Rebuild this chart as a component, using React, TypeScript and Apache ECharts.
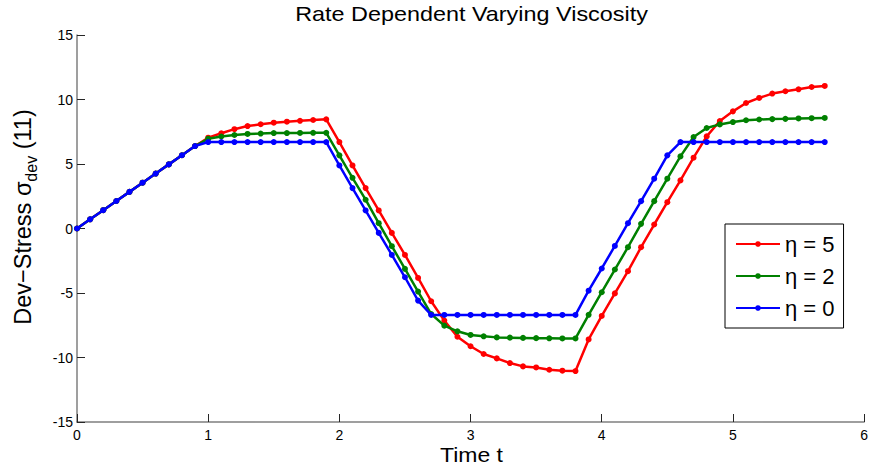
import React, { useEffect, useRef } from "react";
import * as echarts from "echarts";

const FONT = '"Liberation Sans", Arial, Helvetica, sans-serif';

const TITLE = "Rate Dependent Varying Viscosity";
const X_LABEL = "Time t";
const LEGEND_NAMES = ["η = 5", "η = 2", "η = 0"];
const COLORS = ["#ff0000", "#008000", "#0000ff"];

const times = [
  0, 0.1, 0.2, 0.3, 0.4, 0.5, 0.6, 0.7, 0.8, 0.9,
  1.0, 1.1, 1.2, 1.3, 1.4, 1.5, 1.6, 1.7, 1.8, 1.9,
  2.0, 2.1, 2.2, 2.3, 2.4, 2.5, 2.6, 2.7, 2.8, 2.9,
  3.0, 3.1, 3.2, 3.3, 3.4, 3.5, 3.6, 3.7, 3.8, 3.9,
  4.0, 4.1, 4.2, 4.3, 4.4, 4.5, 4.6, 4.7, 4.8, 4.9,
  5.0, 5.1, 5.2, 5.3, 5.4, 5.5, 5.6, 5.7,
];

const eta5 = [
  0, 0.71, 1.42, 2.13, 2.84, 3.55, 4.26, 4.97, 5.68, 6.39,
  7.04, 7.38, 7.7, 7.94, 8.08, 8.2, 8.28, 8.35, 8.41, 8.46,
  6.7, 4.89, 3.13, 1.4, -0.34, -2.05, -3.83, -5.64, -7.14, -8.39,
  -9.13, -9.73, -10.07, -10.43, -10.69, -10.77, -10.95, -11.02, -11.05, -8.6,
  -6.78, -5.03, -3.31, -1.45, 0.31, 2.04, 3.73, 5.49, 7.14, 8.33,
  9.08, 9.73, 10.12, 10.46, 10.64, 10.79, 10.97, 11.05,
];

const eta2 = [
  0, 0.71, 1.42, 2.13, 2.84, 3.55, 4.26, 4.97, 5.68, 6.39,
  6.96, 7.13, 7.25, 7.33, 7.36, 7.4, 7.4, 7.41, 7.42, 7.42,
  5.67, 3.93, 2.23, 0.41, -1.37, -3.13, -4.89, -6.63, -7.53, -7.97,
  -8.25, -8.36, -8.44, -8.46, -8.48, -8.5, -8.51, -8.52, -8.52, -6.69,
  -4.94, -3.18, -1.45, 0.36, 2.12, 3.86, 5.59, 7.09, 7.79, 8.07,
  8.25, 8.39, 8.45, 8.48, 8.5, 8.53, 8.55, 8.57,
];

const eta0 = [
  0, 0.71, 1.42, 2.13, 2.84, 3.55, 4.26, 4.97, 5.68, 6.39,
  6.7, 6.7, 6.7, 6.7, 6.7, 6.7, 6.7, 6.7, 6.7, 6.7,
  4.89, 3.13, 1.4, -0.34, -2.05, -3.78, -5.59, -6.7, -6.7, -6.7,
  -6.7, -6.7, -6.7, -6.7, -6.7, -6.7, -6.7, -6.7, -6.7, -4.82,
  -3.1, -1.35, 0.41, 2.12, 3.86, 5.67, 6.7, 6.7, 6.7, 6.7,
  6.7, 6.7, 6.7, 6.7, 6.7, 6.7, 6.7, 6.7,
];

const seriesValues = [eta5, eta2, eta0];

export default function App() {
  const ref = useRef<HTMLDivElement>(null);

  useEffect(() => {
    if (!ref.current) return;
    const chart = echarts.init(ref.current, null, { renderer: "svg" });

    const axisCommon = {
      type: "value" as const,
      splitLine: { show: false },
      axisLine: { show: true, onZero: false, lineStyle: { color: "#7f7f7f", width: 1.5 } },
      axisTick: { show: true, inside: true, length: 8, lineStyle: { color: "#262626", width: 1 } },
    };

    chart.setOption({
      animation: false,
      backgroundColor: "#ffffff",
      grid: { left: 77, right: 5, top: 35, bottom: 51, containLabel: false },
      xAxis: {
        ...axisCommon,
        min: 0,
        max: 6,
        interval: 1,
        axisLabel: { margin: 6, fontSize: 14, color: "#000", fontFamily: FONT },
      },
      yAxis: {
        ...axisCommon,
        min: -15,
        max: 15,
        interval: 5,
        axisLabel: { margin: 4, fontSize: 14, color: "#000", fontFamily: FONT },
      },
      legend: {
        orient: "vertical",
        left: 725,
        top: 224,
        padding: [9, 9, 9, 10],
        itemGap: 10,
        itemWidth: 44,
        itemHeight: 7,
        backgroundColor: "#ffffff",
        borderColor: "#000000",
        borderWidth: 1,
        borderRadius: 0,
        textStyle: { fontSize: 22, color: "#000", fontFamily: FONT },
        data: LEGEND_NAMES,
      },
      series: seriesValues.map((vals, i) => ({
        name: LEGEND_NAMES[i],
        type: "line",
        data: times.map((t, j) => [t, vals[j]]),
        symbol: "circle",
        symbolSize: 6,
        showSymbol: true,
        color: COLORS[i],
        lineStyle: { color: COLORS[i], width: 2.5 },
        itemStyle: { color: COLORS[i] },
        z: 2 + i,
      })),
      graphic: [
        {
          type: "text",
          x: 471.5,
          y: 14.5,
          scaleX: 1.17,
          style: {
            text: TITLE,
            font: `20px ${FONT}`,
            fontSize: 20,
            fontFamily: FONT,
            fill: "#000",
            align: "center",
            verticalAlign: "middle",
            textAlign: "center",
            textVerticalAlign: "middle",
          },
        },
        {
          type: "text",
          x: 471.5,
          y: 455,
          scaleX: 1.15,
          style: {
            text: X_LABEL,
            font: `20px ${FONT}`,
            fontSize: 20,
            fontFamily: FONT,
            fill: "#000",
            align: "center",
            verticalAlign: "middle",
            textAlign: "center",
            textVerticalAlign: "middle",
          },
        },
        {
          type: "text",
          x: 25,
          y: 217,
          rotation: Math.PI / 2,
          style: {
            text: "{a|Dev−Stress σ}{b|dev}{a| (11)}",
            align: "center",
            verticalAlign: "middle",
            textAlign: "center",
            textVerticalAlign: "middle",
            fill: "#000",
            rich: {
              a: { fontSize: 23.5, fontFamily: FONT, fill: "#000", lineHeight: 28, verticalAlign: "top" },
              b: { fontSize: 16, fontFamily: FONT, fill: "#000", lineHeight: 28, verticalAlign: "bottom" },
            },
          },
        },
      ],
    });

    return () => chart.dispose();
  }, []);

  return (
    <div
      ref={ref}
      style={{ position: "fixed", left: 0, top: 0, width: 871, height: 473, background: "#fff" }}
    />
  );
}
